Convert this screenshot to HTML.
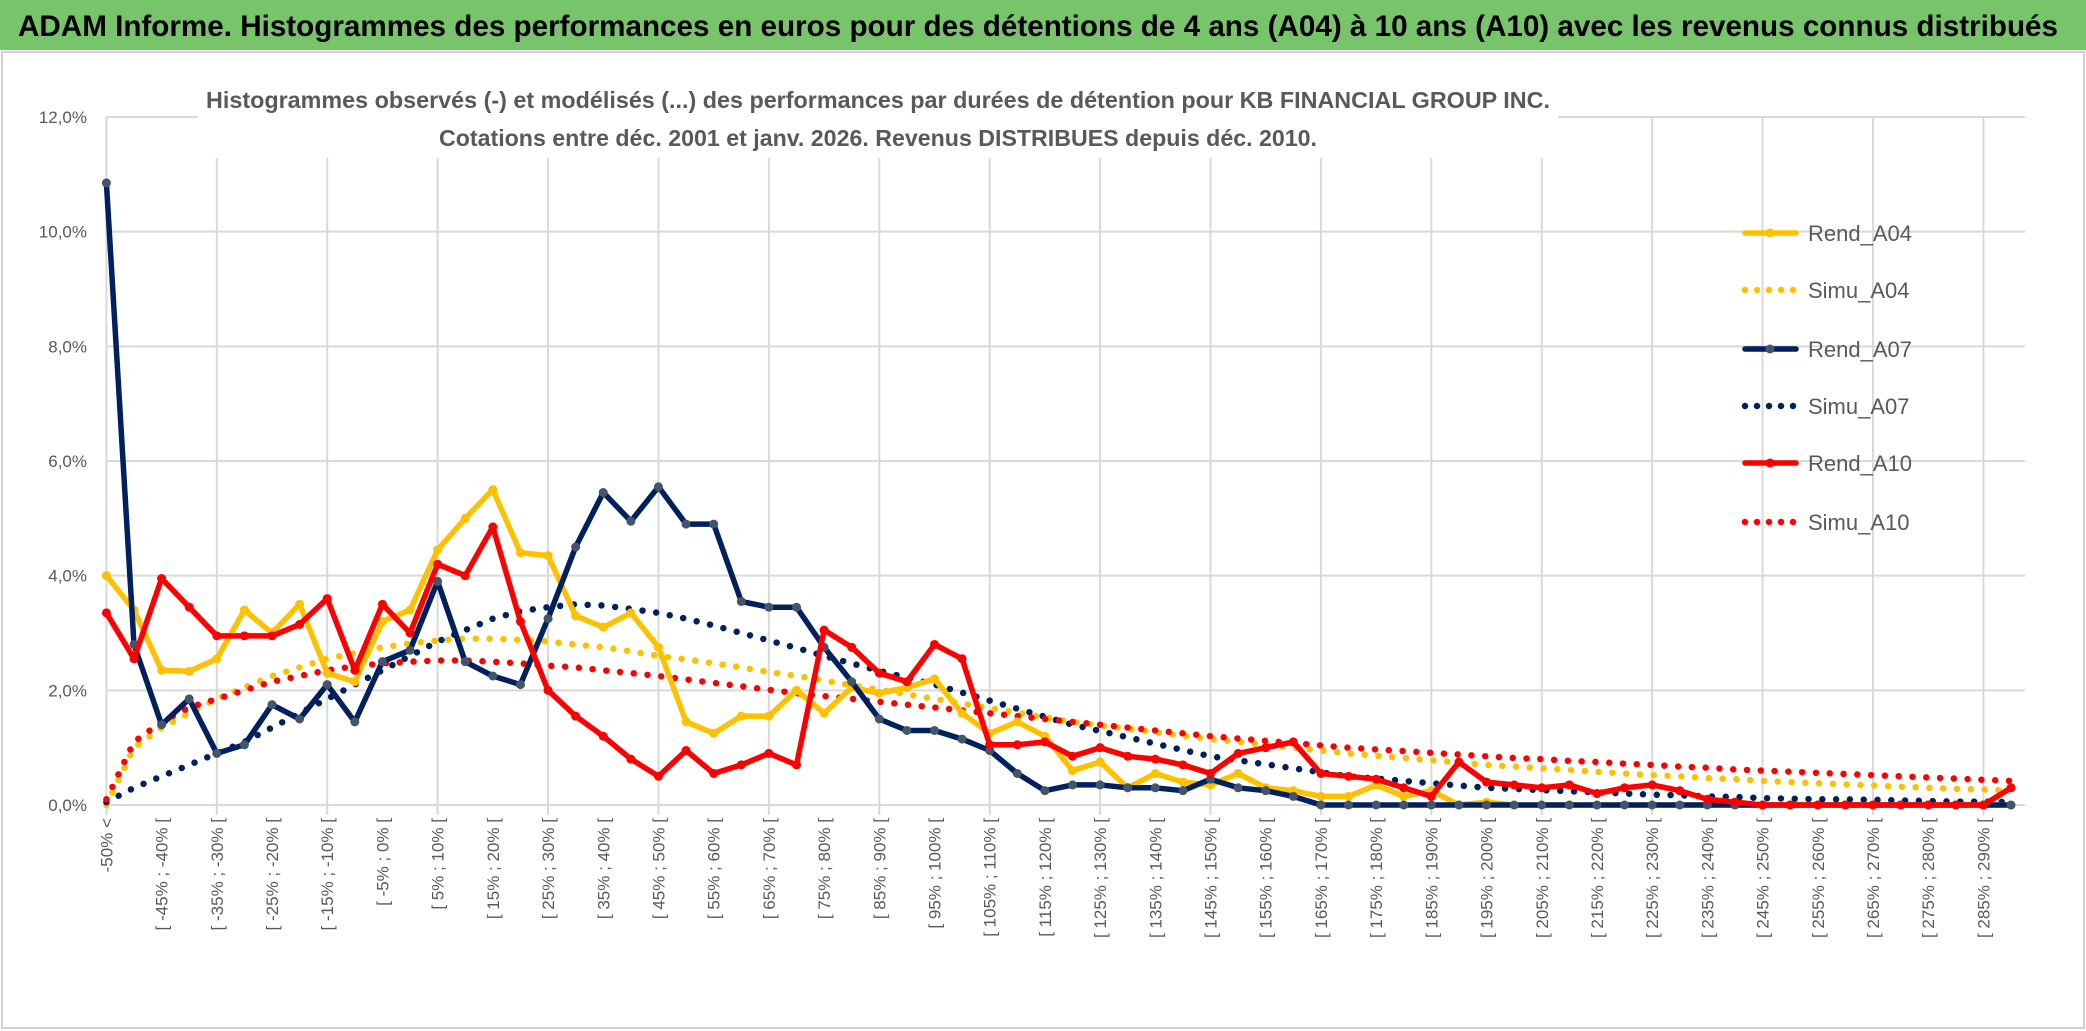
<!DOCTYPE html>
<html><head><meta charset="utf-8"><style>
html,body{margin:0;padding:0;background:#fff;}
svg{display:block;font-family:"Liberation Sans Narrow","Liberation Sans",sans-serif;}
</style></head><body>
<svg id="chart" width="2086" height="1031" viewBox="0 0 2086 1031" xmlns="http://www.w3.org/2000/svg">
<rect x="0" y="0" width="2086" height="1031" fill="#fff"/>
<rect x="0" y="0" width="2086" height="50" fill="#77c46b"/>
<text x="18" y="36" font-size="30" font-weight="bold" fill="#000" textLength="2040" lengthAdjust="spacingAndGlyphs">ADAM Informe. Histogrammes des performances en euros pour des détentions de 4 ans (A04) à 10 ans (A10) avec les revenus connus distribués</text>
<rect x="2" y="52" width="2082" height="976" fill="none" stroke="#d0d0d0" stroke-width="2"/>
<g id="grid"></g>
<rect x="198" y="80" width="1360" height="78" fill="#fff"/>
<text x="206" y="108" font-size="23" font-weight="bold" fill="#595959" textLength="1344" lengthAdjust="spacingAndGlyphs">Histogrammes observés (-) et modélisés (...) des performances par durées de détention pour KB FINANCIAL GROUP INC.</text>
<text x="439" y="146" font-size="23" font-weight="bold" fill="#595959" textLength="878" lengthAdjust="spacingAndGlyphs">Cotations entre déc. 2001 et janv. 2026. Revenus DISTRIBUES depuis déc. 2010.</text>
<g id="axes"></g><g id="series"></g><g id="legend"></g>
</svg>
<script>
const categories = ["-50% <"];
for (let a = -50; a < 295; a += 5) categories.push("[ " + a + "% ; " + (a + 5) + "% [");
const yTicks = [0, 2, 4, 6, 8, 10, 12];
const yTickLabels = ["0,0%", "2,0%", "4,0%", "6,0%", "8,0%", "10,0%", "12,0%"];
const seriesNames = ["Rend_A04", "Simu_A04", "Rend_A07", "Simu_A07", "Rend_A10", "Simu_A10"];
const rendA04 = [4.0,3.4,2.35,2.33,2.55,3.4,3.0,3.5,2.3,2.15,3.2,3.4,4.45,5.0,5.5,4.4,4.35,3.3,3.1,3.35,2.75,1.45,1.25,1.55,1.55,2.0,1.6,2.05,1.95,2.05,2.2,1.6,1.25,1.45,1.2,0.6,0.75,0.3,0.55,0.4,0.35,0.55,0.3,0.25,0.15,0.15,0.35,0.15,0.25,0,0.05,0,0,0,0,0,0,0,0,0,0,0,0,0,0,0,0,0,0,0];
const simuA04 = [0,1.0,1.35,1.6,1.85,2.05,2.25,2.4,2.55,2.65,2.75,2.82,2.87,2.9,2.9,2.88,2.85,2.8,2.75,2.68,2.6,2.54,2.47,2.4,2.32,2.25,2.17,2.09,2.01,1.93,1.85,1.77,1.69,1.61,1.53,1.45,1.39,1.33,1.27,1.21,1.15,1.1,1.05,1.0,0.95,0.9,0.86,0.82,0.78,0.74,0.7,0.67,0.64,0.61,0.58,0.55,0.52,0.5,0.47,0.45,0.42,0.4,0.38,0.36,0.34,0.32,0.3,0.28,0.27,0.25];
const rendA07 = [10.85,2.8,1.4,1.85,0.9,1.05,1.75,1.5,2.1,1.45,2.5,2.7,3.9,2.5,2.25,2.1,3.25,4.5,5.45,4.95,5.55,4.9,4.9,3.55,3.45,3.45,2.75,2.15,1.5,1.3,1.3,1.15,0.95,0.55,0.25,0.35,0.35,0.3,0.3,0.25,0.45,0.3,0.25,0.15,0,0,0,0,0,0,0,0,0,0,0,0,0,0,0,0,0,0,0,0,0,0,0,0,0,0];
const simuA07 = [0.05,0.3,0.5,0.7,0.9,1.1,1.35,1.6,1.85,2.1,2.35,2.6,2.85,3.05,3.25,3.38,3.45,3.5,3.48,3.42,3.35,3.25,3.13,3.0,2.87,2.74,2.6,2.47,2.34,2.22,2.1,1.96,1.82,1.68,1.54,1.4,1.29,1.18,1.07,0.96,0.85,0.78,0.71,0.64,0.57,0.5,0.46,0.42,0.38,0.34,0.3,0.28,0.26,0.24,0.22,0.2,0.18,0.17,0.15,0.14,0.12,0.11,0.1,0.1,0.09,0.08,0.07,0.06,0.06,0.05];
const rendA10 = [3.35,2.55,3.95,3.45,2.95,2.95,2.95,3.15,3.6,2.35,3.5,3.0,4.2,4.0,4.85,3.2,2.0,1.55,1.2,0.8,0.5,0.95,0.55,0.7,0.9,0.7,3.05,2.75,2.3,2.15,2.8,2.55,1.05,1.05,1.1,0.85,1.0,0.85,0.8,0.7,0.55,0.9,1.0,1.1,0.55,0.5,0.45,0.3,0.15,0.75,0.4,0.35,0.3,0.35,0.2,0.3,0.35,0.25,0.1,0.05,0,0,0,0,0,0,0,0,0,0.3];
const simuA10 = [0.1,1.1,1.45,1.7,1.85,2.0,2.15,2.25,2.35,2.42,2.47,2.5,2.52,2.52,2.5,2.47,2.43,2.4,2.35,2.3,2.25,2.19,2.13,2.07,2.01,1.95,1.9,1.85,1.8,1.75,1.7,1.65,1.6,1.55,1.5,1.45,1.4,1.35,1.3,1.25,1.2,1.16,1.12,1.08,1.04,1.0,0.97,0.94,0.91,0.88,0.85,0.82,0.8,0.77,0.75,0.72,0.7,0.67,0.65,0.62,0.6,0.58,0.56,0.54,0.52,0.5,0.48,0.46,0.44,0.42];

const NS = "http://www.w3.org/2000/svg";
const X0 = 106.4, X1 = 2011, Y0 = 805, Y12 = 117;
const xPos = i => X0 + i * (X1 - X0) / (categories.length - 1);
const yPos = v => Y0 - v * (Y0 - Y12) / 12;
function mk(tag, attrs, parent) {
  const e = document.createElementNS(NS, tag);
  for (const k in attrs) e.setAttribute(k, attrs[k]);
  parent.appendChild(e);
  return e;
}
const grid = document.getElementById("grid"), axes = document.getElementById("axes"),
      ser = document.getElementById("series"), leg = document.getElementById("legend");

yTicks.forEach((t, k) => {
  const l = mk("line", {x1: X0, x2: X1 + 14, y1: yPos(t), y2: yPos(t), stroke: "#d9d9d9", "stroke-width": 2}, grid);
  
  
  const tx = mk("text", {x: 87, y: yPos(t) + 6, "text-anchor": "end", "font-size": 17, fill: "#595959"}, axes);
  tx.textContent = yTickLabels[k];
  
  
});
for (let i = 0; i < categories.length; i += 4) {
  const l = mk("line", {x1: xPos(i), x2: xPos(i), y1: Y12, y2: Y0 + 10, stroke: "#d9d9d9", "stroke-width": 2}, grid);
  
  
}
categories.forEach((c, i) => {
  if (i % 2) return;
  const x = xPos(i) + 6, y = 818;
  const tx = mk("text", {x: x, y: y, transform: "rotate(-90 " + x + " " + y + ")", "text-anchor": "end", "font-size": 17, fill: "#595959"}, axes);
  tx.textContent = c;
  
  
});

const styles = [
  {data: rendA04, color: "#FFC000", dotted: false, marker: "#FFC000"},
  {data: simuA04, color: "#FFC000", dotted: true},
  {data: rendA07, color: "#002060", dotted: false, marker: "#44546A"},
  {data: simuA07, color: "#002060", dotted: true},
  {data: rendA10, color: "#FF0000", dotted: false, marker: "#FF0000"},
  {data: simuA10, color: "#FF0000", dotted: true}
];
const drawOrder = [1, 3, 5, 0, 2, 4];
drawOrder.forEach(s => {
  const st = styles[s];
  const pts = st.data.map((v, i) => xPos(i).toFixed(1) + "," + yPos(v).toFixed(1)).join(" ");
  const attrs = {points: pts, fill: "none", stroke: st.color, "stroke-linejoin": "round", "stroke-linecap": "round"};
  if (st.dotted) { attrs["stroke-width"] = 6.5; attrs["stroke-dasharray"] = "0 13.8"; }
  else attrs["stroke-width"] = 5.5;
  const pl = mk("polyline", attrs, ser);
  
  
  if (!st.dotted) {
    st.data.forEach((v, i) => {
      const c = mk("circle", {cx: xPos(i), cy: yPos(v), r: 4.5, fill: st.marker}, ser);
      
      
    });
  }
});

const legY = [233, 290, 349, 406, 463, 522];
seriesNames.forEach((n, k) => {
  const st = styles[k];
  const a = {x1: 1745, x2: 1796, y1: legY[k], y2: legY[k], stroke: st.color, "stroke-linecap": "round"};
  if (st.dotted) { a["stroke-width"] = 6.5; a["stroke-dasharray"] = "0 12"; } else a["stroke-width"] = 5.5;
  const l = mk("line", a, leg);
  
  
  if (!st.dotted) {
    const c = mk("circle", {cx: 1770, cy: legY[k], r: 4.5, fill: st.marker}, leg);
    
    
  }
  const t = mk("text", {x: 1808, y: legY[k] + 8, "font-size": 22, fill: "#595959"}, leg);
  t.textContent = n;
  
  
});
</script>
</body></html>
